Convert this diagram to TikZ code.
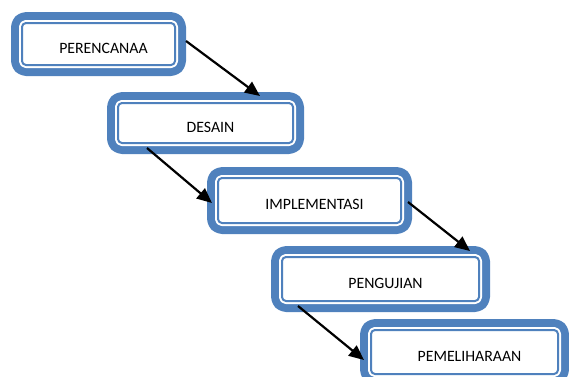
\documentclass[tikz,border=0pt]{standalone}
\usepackage{fontspec}
\setmainfont{Carlito}
\usetikzlibrary{arrows.meta}
\definecolor{boxblue}{RGB}{79,129,189}
\begin{document}
\begin{tikzpicture}[x=1pt,y=-1pt,
  stepbox/.style={draw=boxblue, line width=2pt, fill=white, rounded corners=4pt, inner sep=0pt, line join=round,
    preaction={draw=boxblue, line width=22pt, line join=round},
    preaction={draw=white, line width=6pt, line join=round}},
  lbl/.style={font=\fontsize{15.8}{18}\selectfont, xshift=5pt, yshift=-4pt},
  flow/.style={-{Triangle[length=15pt,width=13pt]}, line width=2.2pt, black}]
\useasboundingbox (0,0) rectangle (569,376);
\clip (0,0) rectangle (569,376);
\node[stepbox, minimum width=153pt, minimum height=42pt, label={[lbl]center:PERENCANAA}] (b1) at (98.5,44) {};
\node[stepbox, minimum width=175pt, minimum height=40pt, label={[lbl]center:DESAIN}] (b2) at (205.5,123) {};
\node[stepbox, minimum width=183pt, minimum height=45pt, label={[lbl]center:IMPLEMENTASI}] (b3) at (309.5,200.5) {};
\node[stepbox, minimum width=197pt, minimum height=44pt, label={[lbl]center:PENGUJIAN}] (b4) at (380.5,279) {};
\node[stepbox, minimum width=187pt, minimum height=44pt, label={[lbl]center:PEMELIHARAAN}] (b5) at (464.5,352) {};
\draw[flow] ([shift={(10pt,3pt)}]b1.east) -- ([shift={(54.5pt,6pt)}]b2.north);
\draw[flow] ([shift={(-58.5pt,-4pt)}]b2.south) -- ([shift={(-5pt,-2.5pt)}]b3.west);
\draw[flow] ([shift={(6pt,-1.5pt)}]b3.east) -- ([shift={(89.5pt,5pt)}]b4.north);
\draw[flow] ([shift={(-82.5pt,-4pt)}]b4.south) -- ([shift={(-6pt,-8pt)}]b5.west);
\end{tikzpicture}
\end{document}
